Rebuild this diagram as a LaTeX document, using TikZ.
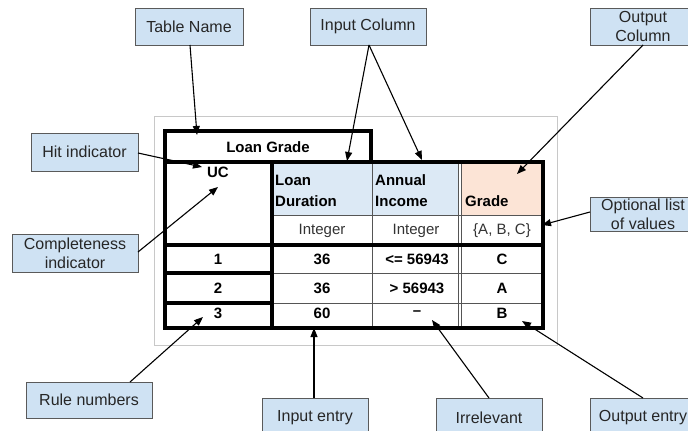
\documentclass[tikz,border=0pt]{standalone}
\usepackage{fontspec}
\setmainfont{Liberation Sans}
\usetikzlibrary{arrows.meta}
\definecolor{calfill}{HTML}{CFE2F3}
\definecolor{calborder}{HTML}{5A5A5A}
\definecolor{hdrblue}{HTML}{DCE9F5}
\definecolor{hdrpeach}{HTML}{FCE4D6}
\definecolor{framegray}{HTML}{C8C8C8}
\definecolor{thingray}{HTML}{555555}
\newcommand\calfont{\fontsize{16}{19}\selectfont}
\newcommand\tabfont{\fontsize{15}{21}\selectfont}
\tikzset{
  callout/.style={draw=calborder, fill=calfill, line width=0.8pt, font=\calfont,
    text=black!85, inner sep=0pt, align=center},
  heavy/.style={line width=4pt, line cap=rect},
  light/.style={line width=1pt, draw=thingray},
  cell/.style={font=\tabfont\bfseries, inner sep=0pt},
  plaincell/.style={font=\tabfont, inner sep=0pt, text=black!80},
  pointer/.style={line width=1.1pt, -{Triangle[length=9pt,width=7pt]}}
}
\begin{document}
\begin{tikzpicture}[x=1pt,y=-1pt]
\useasboundingbox (0,0) rectangle (688,431);
\clip (0,0) rectangle (688,431);
% light frame
\draw[framegray, line width=0.8pt] (154,116) rectangle (557,345);
% header fills
\fill[hdrblue] (272,162) rectangle (459,215);
\fill[hdrpeach] (462,162) rectangle (543,215);
% thin lines
\draw[light] (272,215) -- (543,215);
\draw[light] (272,273) -- (543,273);
\draw[light] (272,303) -- (543,303);
\draw[light] (372,162) -- (372,328);
\draw[light] (458.5,162) -- (458.5,328);
\draw[light] (461.5,162) -- (461.5,328);
% thick lines
\draw[heavy] (165,131) rectangle (371,162);
\draw[heavy] (165,162) rectangle (543,328);
\draw[heavy] (272,162) -- (272,328);
\draw[heavy] (165,245) -- (543,245);
\draw[heavy] (165,273) -- (272,273);
\draw[heavy] (165,303) -- (272,303);
% table texts
\node[cell] (tname) at (268,147) {Loan Grade};
\node[cell] (uc) at (218,172) {UC};
\node[cell, anchor=west, align=left] (ld) at (275,190.5) {Loan\\Duration};
\node[cell, anchor=west, align=left] (ai) at (375,190.5) {Annual\\Income};
\node[cell, anchor=west] (gr) at (465,201) {Grade};
\node[plaincell] (t1) at (322,231) {Integer};
\node[plaincell] (t2) at (416,231) {Integer};
\node[plaincell] (t3) at (502,231) {\{A, B, C\}};
\node[cell] (r1) at (218,259) {1};
\node[cell] (r1a) at (322,259) {36};
\node[cell] (r1b) at (417,259) {<= 56943};
\node[cell] (r1c) at (502,259) {C};
\node[cell] (r2) at (218,288) {2};
\node[cell] (r2a) at (322,288) {36};
\node[cell] (r2b) at (417,288) {> 56943};
\node[cell] (r2c) at (502,288) {A};
\node[cell] (r3) at (218,313) {3};
\node[cell] (r3a) at (322,313) {60};
\node[cell] (r3b) at (417,313) {--};
\node[cell] (r3c) at (502,313) {B};
% callouts
\node[callout, minimum width=108pt, minimum height=37pt] (cTable) at (189,26.5) {Table Name};
\node[callout, minimum width=116pt, minimum height=37pt] (cInput) at (368,26.5) {Input Column};
\node[callout, minimum width=106pt, minimum height=37pt] (cOutput) at (643,26.5) {Output\\Column};
\node[callout, minimum width=107pt, minimum height=38pt] (cHit) at (84.5,152) {Hit indicator};
\node[callout, minimum width=126pt, minimum height=38pt] (cComp) at (75,253) {Completeness\\indicator};
\node[callout, minimum width=106pt, minimum height=34pt] (cOpt) at (643,214) {Optional list\\of values};
\node[callout, minimum width=126pt, minimum height=36pt] (cRule) at (89,400) {Rule numbers};
\node[callout, minimum width=106pt, minimum height=40pt] (cIn) at (315,418) {Input entry};
\node[callout, minimum width=106pt, minimum height=40pt] (cIrr) at (489,418) {Irrelevant};
\node[callout, minimum width=106pt, minimum height=40pt] (cOut) at (643,418) {Output entry};
% arrow targets
\coordinate (pTable) at (197,135);
\coordinate (pHit) at (202,167);
\coordinate (pIn1) at (347,161);
\coordinate (pIn2) at (422,160);
\coordinate (pOut) at (517,174);
\coordinate (pOpt) at (542,225);
\coordinate (pComp) at (218,187);
\coordinate (pRule) at (203,317);
\coordinate (pInE) at (314,328);
\coordinate (pIrr) at (432,320);
\coordinate (pOutE) at (522,321);
\coordinate (sTable) at (190,45);
\coordinate (sInput) at (369,45);
\coordinate (sOutput) at (643,45);
\coordinate (sHit) at (138,153);
\coordinate (sComp) at (138,252);
\coordinate (sOpt) at (590,212);
\coordinate (sRule) at (130,382);
\coordinate (sIn) at (314,398);
\coordinate (sIrr) at (489,398);
\coordinate (sOut) at (643,398);
% arrows
\draw[pointer] (sTable) -- (pTable);
\draw[pointer] (sHit) -- (pHit);
\draw[pointer] (sInput) -- (pIn1);
\draw[pointer] (sInput) -- (pIn2);
\draw[pointer] (sOutput) -- (pOut);
\draw[pointer] (sOpt) -- (pOpt);
\draw[pointer] (sComp) -- (pComp);
\draw[pointer] (sRule) -- (pRule);
\draw[pointer] (sIn) -- (pInE);
\draw[pointer] (sIrr) -- (pIrr);
\draw[pointer] (sOut) -- (pOutE);
\end{tikzpicture}
\end{document}
